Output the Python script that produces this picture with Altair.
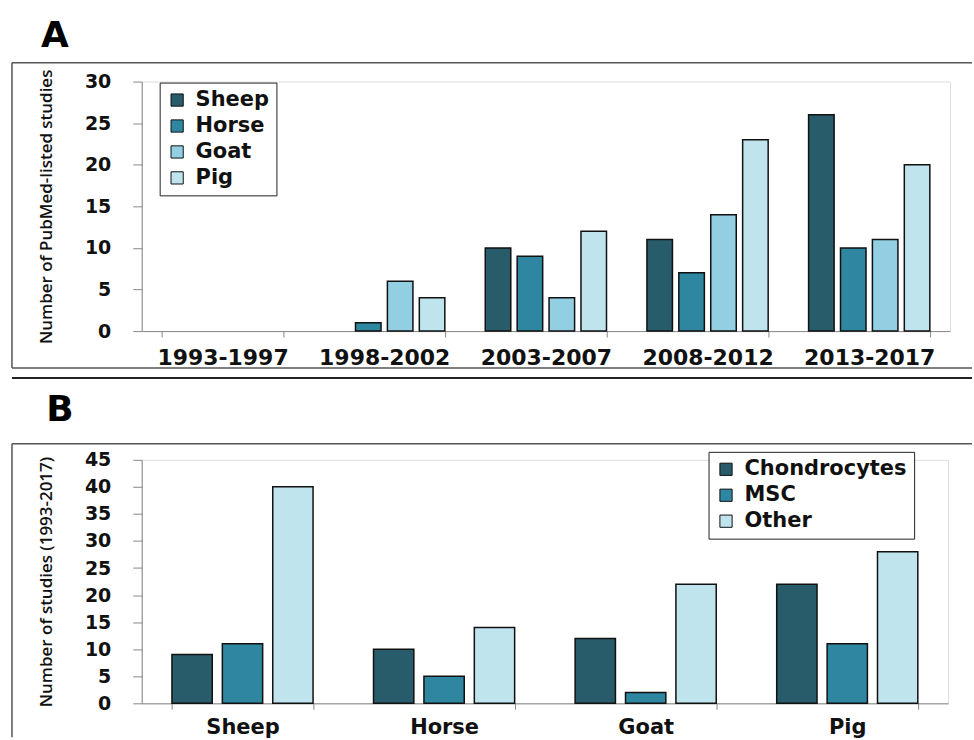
import altair as alt
import pandas as pd

# ---- Panel A data ----
periods = ["1993-1997", "1998-2002", "2003-2007", "2008-2012", "2013-2017"]
species = ["Sheep", "Horse", "Goat", "Pig"]
sheep_a = [0, 0, 10, 11, 26]
horse_a = [0, 1, 9, 7, 10]
goat_a = [0, 6, 4, 14, 11]
pig_a = [0, 4, 12, 23, 20]

# ---- Panel B data ----
animals = ["Sheep", "Horse", "Goat", "Pig"]
cell_types = ["Chondrocytes", "MSC", "Other"]
chondro_b = [9, 10, 12, 22]
msc_b = [11, 5, 2, 11]
other_b = [40, 14, 22, 28]

colors_a = ["#285c6b", "#2e86a0", "#92cfe2", "#c0e4ee"]
colors_b = ["#285c6b", "#2e86a0", "#c0e4ee"]

rows_a = []
for name, vals in zip(species, [sheep_a, horse_a, goat_a, pig_a]):
    for p, v in zip(periods, vals):
        rows_a.append({"period": p, "species": name, "value": v})
df_a = pd.DataFrame(rows_a)

rows_b = []
for name, vals in zip(cell_types, [chondro_b, msc_b, other_b]):
    for a, v in zip(animals, vals):
        rows_b.append({"animal": a, "cell": name, "value": v})
df_b = pd.DataFrame(rows_b)

FONT = "DejaVu Sans"
one = pd.DataFrame({"k": [0]})


def frame_layers(left, top, right, bottom=None, extra_bottom=None, left_bottom=None):
    base = alt.Chart(one)
    layers = [
        base.mark_rule(color="#555", strokeWidth=1.5).encode(
            x=alt.value(left), x2=alt.value(right), y=alt.value(top)),
        base.mark_rule(color="#555", strokeWidth=1.5).encode(
            x=alt.value(left), y=alt.value(top),
            y2=alt.value(left_bottom if left_bottom is not None else bottom)),
    ]
    if bottom is not None:
        layers.append(base.mark_rule(color="#555", strokeWidth=1.5).encode(
            x=alt.value(left), x2=alt.value(right), y=alt.value(bottom)))
    if extra_bottom is not None:
        layers.append(base.mark_rule(color="#222", strokeWidth=2).encode(
            x=alt.value(left), x2=alt.value(right), y=alt.value(extra_bottom)))
    return layers


def legend(x, y):
    return alt.Legend(
        orient="none", legendX=x, legendY=y, title=None,
        symbolType="square", symbolSize=150, symbolStrokeColor="#111",
        symbolStrokeWidth=1, labelFont=FONT, labelFontSize=21,
        labelFontWeight="bold", labelColor="#111",
        strokeColor="#222", fillColor="white", padding=7,
        rowPadding=4, labelOffset=8, symbolOpacity=1, labelLimit=300,
    )


def y_axis(title, values):
    return alt.Axis(
        title=title, values=values, grid=False, domainColor="#888",
        tickColor="#888", tickSize=9, labelFont=FONT, labelFontSize=19,
        labelFontWeight="bold", labelColor="#111", labelPadding=22,
        titleFont="Open Sans", titleFontSize=17, titleFontWeight=600,
        titleColor="#111", titlePadding=29,
    )


def x_axis(size, pad):
    return alt.Axis(
        title=None, labelAngle=0, domainColor="#888", tickColor="#888",
        tickSize=6, tickBand="extent", labelFont=FONT, labelFontSize=size,
        labelFontWeight="bold", labelColor="#111", labelPadding=pad,
    )


LEFT = -130
RIGHT = 832

W_A, H_A = 810, 250
bars_a = alt.Chart(df_a).transform_filter("datum.value > 0").mark_bar(
    stroke="#111", strokeWidth=1.5
).encode(
    x=alt.X("period:N", sort=periods, axis=x_axis(22, 10),
            scale=alt.Scale(domain=periods, paddingInner=0.25, paddingOuter=0.125)),
    xOffset=alt.XOffset("species:N", sort=species,
                        scale=alt.Scale(domain=species, paddingInner=0.2, paddingOuter=0)),
    y=alt.Y("value:Q", scale=alt.Scale(domain=[0, 30], nice=False),
            axis=y_axis("Number of PubMed-listed studies", list(range(0, 31, 5)))),
    color=alt.Color("species:N", scale=alt.Scale(domain=species, range=colors_a),
                    legend=legend(18, 1)),
)

chart_a = alt.layer(
    *frame_layers(LEFT, -19, RIGHT, bottom=287, extra_bottom=297), bars_a
).properties(
    width=W_A, height=H_A,
    title=alt.TitleParams("A", anchor="start", fontSize=36, font=FONT,
                          fontWeight="bold", dx=30, offset=7, color="black"),
)

W_B, H_B = 808, 244
bars_b = alt.Chart(df_b).transform_filter("datum.value > 0").mark_bar(
    stroke="#111", strokeWidth=1.5
).encode(
    x=alt.X("animal:N", sort=animals, axis=x_axis(21, 7),
            scale=alt.Scale(domain=animals, paddingInner=0.3, paddingOuter=0.15)),
    xOffset=alt.XOffset("cell:N", sort=cell_types,
                        scale=alt.Scale(domain=cell_types, paddingInner=0.2, paddingOuter=0)),
    y=alt.Y("value:Q", scale=alt.Scale(domain=[0, 45], nice=False),
            axis=y_axis("Number of studies (1993-2017)", list(range(0, 46, 5)))),
    color=alt.Color("cell:N", scale=alt.Scale(domain=cell_types, range=colors_b),
                    legend=legend(568, -8)),
)

chart_b = alt.layer(
    *frame_layers(LEFT, -16, RIGHT, left_bottom=278), bars_b
).properties(
    width=W_B, height=H_B,
    title=alt.TitleParams("B", anchor="start", fontSize=36, font=FONT,
                          fontWeight="bold", dx=35, offset=14, color="black"),
)

chart = alt.vconcat(chart_a, chart_b, spacing=11).resolve_scale(
    x="independent", xOffset="independent", y="independent", color="independent"
).properties(
    padding={"left": 10, "top": 16, "right": 0, "bottom": 0}
).configure_view(strokeWidth=0).configure(background="white")

chart.save("out.html", embed_options={"renderer": "svg", "actions": False})
